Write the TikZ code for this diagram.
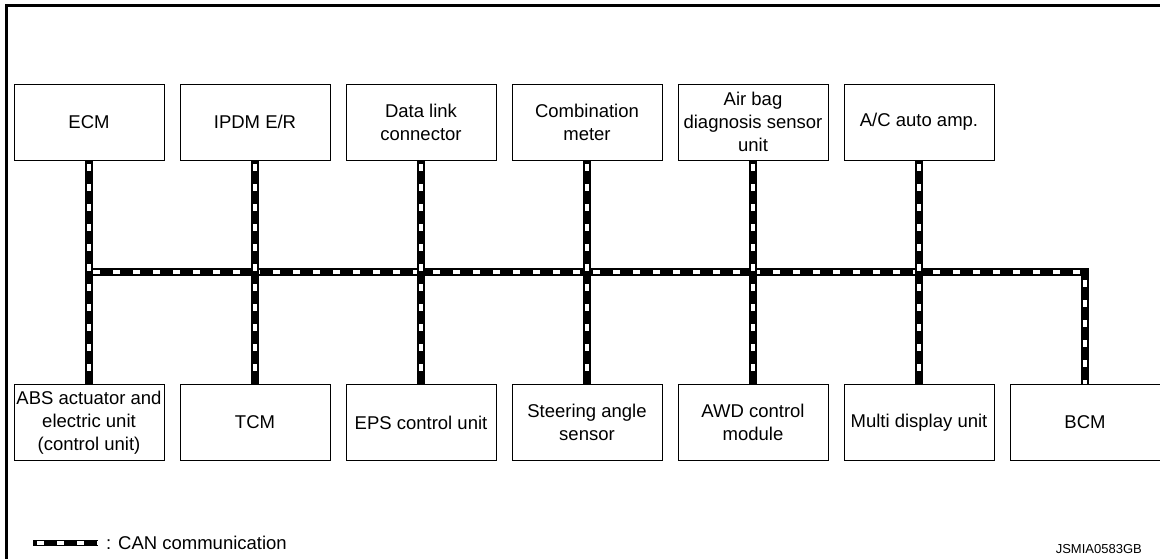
\documentclass[tikz,border=0pt]{standalone}
\usepackage{fontspec}
\setmainfont{Liberation Sans}
\usetikzlibrary{calc}

\tikzset{
  unit/.style={draw,line width=0.8pt,minimum width=150pt,minimum height=76pt,
    inner sep=1pt,align=center,font=\fontsize{18.5}{23}\selectfont},
  can/.style={line width=7.5pt,line join=miter,
    postaction={draw=white,line width=4pt,dash pattern=on 6.5pt off 13.5pt,dash phase=-4pt}},
}

\begin{document}
\begin{tikzpicture}[x=1pt,y=-1pt]
      \useasboundingbox (0,0) rectangle (1160,559);
      \draw[line width=3pt] (1160,5.5)--(6.5,5.5)--(6.5,559);
      % upper row
      \node[unit](ecm) at (89,122) {ECM};
      \node[unit](ipdm) at (255,122) {IPDM E/R};
      \node[unit](dlc) at (421,122) {Data link\\connector};
      \node[unit](meter) at (587,122) {Combination\\meter};
      \node[unit](airbag) at (753,122) {Air bag\\diagnosis sensor\\unit};
      \node[unit](acamp) at (919,122) {A/C auto amp.};
      % lower row
      \node[unit](abs) at (89,422.5) {ABS actuator and\\electric unit\\(control unit)};
      \node[unit](tcm) at (255,422.5) {TCM};
      \node[unit](eps) at (421,422.5) {EPS control unit};
      \node[unit](steer) at (587,422.5) {Steering angle\\sensor};
      \node[unit](awd) at (753,422.5) {AWD control\\module};
      \node[unit](disp) at (919,422.5) {Multi display unit};
      \node[unit](bcm) at (1085,422.5) {BCM};
      \coordinate(J1) at (ecm.south|-0,272);
      \coordinate(J7) at (bcm.north|-0,272);
      \draw[can](J1)--(J7)--(bcm.north);
      \draw[can](ecm.south)--(abs.north) (ipdm.south)--(tcm.north)
        (dlc.south)--(eps.north) (meter.south)--(steer.north)
        (airbag.south)--(awd.north) (acamp.south)--(disp.north);
      % legend
      \coordinate(L1) at (33,543);
      \coordinate(L2) at (98,543);
      \draw[can,line width=5.5pt](L1)--(L2);
      \node[anchor=west,inner sep=0pt,font=\fontsize{18.5}{22}\selectfont](leg) at ($(L2)+(8,0)$) {: CAN communication};
      \node[anchor=east,inner sep=0pt,font=\fontsize{13}{15}\selectfont](code) at (1142,549) {JSMIA0583GB};
    \end{tikzpicture}
\end{document}
